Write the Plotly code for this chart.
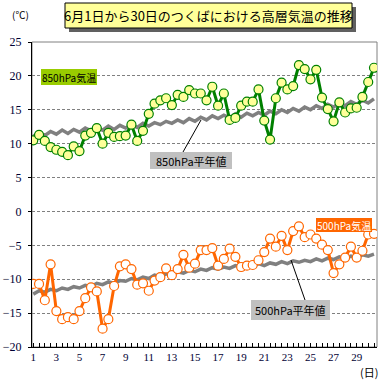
import plotly.graph_objects as go

# ---------------- data ----------------
days = [1 + i * 0.5 for i in range(60)]

t850 = [10.5, 11.3, 10.4, 9.5, 9.1, 8.8, 8.3, 9.6, 8.9, 11.2,
        11.6, 12.3, 10.0, 11.6, 11.0, 11.1, 11.2, 12.8, 10.4, 11.9,
        14.4, 15.9, 16.4, 16.7, 15.7, 17.2, 16.9, 17.9, 17.4, 17.4,
        16.4, 18.4, 15.6, 17.4, 13.5, 13.8, 15.6, 16.2, 16.2, 18.0,
        13.4, 10.6, 16.7, 19.0, 18.0, 18.5, 21.6, 21.0, 19.5, 20.9,
        16.8, 15.1, 13.3, 16.1, 14.6, 15.2, 15.3, 16.9, 19.1, 21.2]

n850 = [11.1, 11.6, 11.2, 11.8, 11.4, 12.0, 11.5, 12.1, 11.7, 12.3,
        11.9, 12.4, 12.0, 12.6, 12.1, 12.7, 12.3, 12.8, 12.4, 13.0,
        12.6, 13.1, 12.8, 13.3, 13.0, 13.5, 13.1, 13.7, 13.3, 13.9,
        13.5, 14.1, 13.7, 14.2, 13.8, 14.4, 13.9, 14.5, 14.1, 14.6,
        14.2, 14.8, 14.4, 15.0, 14.6, 15.2, 14.8, 15.4, 15.0, 15.6,
        15.2, 15.8, 15.4, 16.0, 15.6, 16.2, 15.8, 16.4, 16.0, 16.6]

t500 = [-10.7, -10.7, -13.1, -7.8, -14.7, -15.9, -15.6, -15.9, -14.7, -12.8,
        -11.2, -11.8, -17.3, -15.9, -11.0, -8.1, -7.8, -8.5, -10.8, -10.6,
        -11.7, -10.2, -9.7, -8.4, -9.4, -8.5, -6.4, -8.3, -7.7, -5.7,
        -5.7, -5.4, -8.0, -7.0, -5.5, -6.7, -8.2, -8.0, -7.9, -7.2,
        -6.0, -4.0, -5.2, -3.6, -5.7, -2.9, -2.2, -3.8, -3.4, -4.0,
        -4.9, -5.7, -9.1, -7.8, -6.8, -5.2, -6.8, -5.8, -3.4, -3.3]

n500 = [-12.2, -11.7, -11.9, -11.5, -11.7, -11.3, -11.5, -11.1, -11.3, -10.9,
        -11.1, -10.6, -10.8, -10.4, -10.6, -10.2, -10.3, -9.9, -10.1, -9.7,
        -9.9, -9.4, -9.6, -9.2, -9.4, -8.9, -9.1, -8.7, -8.9, -8.5,
        -8.7, -8.3, -8.5, -8.2, -8.4, -8.0, -8.2, -7.9, -8.1, -7.7,
        -8.0, -7.6, -7.8, -7.4, -7.7, -7.3, -7.5, -7.2, -7.4, -7.0,
        -7.3, -6.9, -7.1, -6.7, -6.9, -6.6, -6.8, -6.4, -6.6, -6.3]

xtick_vals = list(range(1, 30, 2))
ytick_vals = list(range(-20, 26, 5))

title_text = "6月1日から30日のつくばにおける高層気温の推移"
lab850 = "850hPa気温"
lab850n = "850hPa平年値"
lab500 = "500hPa気温"
lab500n = "500hPa平年値"

# ---------------- layout geometry (pixels) ----------------
W = H = 389
L, R, T, B = 32, 377, 42, 347


def px(x):
    return (x - L) / (R - L)


def py(y):
    return (B - y) / (B - T)


JP = "Noto Sans CJK JP"
SERIF = "Liberation Serif"

fig = go.Figure()

fig.add_trace(go.Scatter(x=days, y=n850, mode="lines",
                         line=dict(color="#808080", width=3.5), hoverinfo="skip"))
fig.add_trace(go.Scatter(x=days, y=n500, mode="lines",
                         line=dict(color="#808080", width=3.5), hoverinfo="skip"))
fig.add_trace(go.Scatter(x=days, y=t850, mode="lines+markers",
                         line=dict(color="#008000", width=3),
                         marker=dict(size=9, color="#FFFF99",
                                     line=dict(color="#008000", width=1.2))))
fig.add_trace(go.Scatter(x=days, y=t500, mode="lines+markers",
                         line=dict(color="#FF6600", width=3),
                         marker=dict(size=9, color="#FFFFFF",
                                     line=dict(color="#FF6600", width=1.2))))

shapes = []
# plot frame (top/right gray)
shapes.append(dict(type="rect", xref="paper", yref="paper", x0=0, x1=1, y0=0, y1=1,
                   line=dict(color="#808080", width=1), layer="below"))
# title box shadow + box
shapes.append(dict(type="rect", xref="paper", yref="paper",
                   x0=px(69), x1=px(356), y0=py(32), y1=py(7),
                   fillcolor="#606060", line=dict(width=0)))
shapes.append(dict(type="rect", xref="paper", yref="paper",
                   x0=px(65), x1=px(352), y0=py(28), y1=py(3),
                   fillcolor="#FFFF99", line=dict(color="#000000", width=1)))
# label boxes
shapes.append(dict(type="rect", xref="paper", yref="paper",
                   x0=px(41), x1=px(97), y0=py(85), y1=py(69),
                   fillcolor="#99CC00", line=dict(width=0)))
shapes.append(dict(type="rect", xref="paper", yref="paper",
                   x0=px(316), x1=px(372), y0=py(232), y1=py(218),
                   fillcolor="#FF6600", line=dict(width=0)))
shapes.append(dict(type="rect", xref="paper", yref="paper",
                   x0=px(150), x1=px(232), y0=py(169), y1=py(152),
                   fillcolor="#C0C0C0", line=dict(width=0)))
shapes.append(dict(type="rect", xref="paper", yref="paper",
                   x0=px(251), x1=px(330), y0=py(320), y1=py(300),
                   fillcolor="#C0C0C0", line=dict(width=0)))
# pointer lines
shapes.append(dict(type="line", xref="paper", yref="paper",
                   x0=px(201), y0=py(120), x1=px(183), y1=py(152),
                   line=dict(color="#000000", width=1)))
shapes.append(dict(type="line", xref="paper", yref="paper",
                   x0=px(291), y0=py(260), x1=px(305), y1=py(300),
                   line=dict(color="#000000", width=1)))

annotations = [
    dict(text=title_text, xref="paper", yref="paper", x=px(208.5), y=py(15.5),
         showarrow=False, font=dict(family=JP, size=13, color="#000000"),
         xanchor="center", yanchor="middle"),
    dict(text=lab850, xref="paper", yref="paper", x=px(69), y=py(77),
         showarrow=False, font=dict(family=JP, size=10, color="#000000"),
         xanchor="center", yanchor="middle"),
    dict(text=lab500, xref="paper", yref="paper", x=px(344), y=py(225),
         showarrow=False, font=dict(family=JP, size=10, color="#FFFFFF"),
         xanchor="center", yanchor="middle"),
    dict(text=lab850n, xref="paper", yref="paper", x=px(191), y=py(160.5),
         showarrow=False, font=dict(family=JP, size=11, color="#000000"),
         xanchor="center", yanchor="middle"),
    dict(text=lab500n, xref="paper", yref="paper", x=px(290.5), y=py(310),
         showarrow=False, font=dict(family=JP, size=11, color="#000000"),
         xanchor="center", yanchor="middle"),
    dict(text="(℃)", xref="paper", yref="paper", x=px(20), y=py(15),
         showarrow=False, font=dict(family=JP, size=10, color="#000000"),
         xanchor="center", yanchor="middle"),
    dict(text="(日)", xref="paper", yref="paper", x=px(369), y=py(372),
         showarrow=False, font=dict(family=JP, size=11, color="#000000"),
         xanchor="center", yanchor="middle"),
]

fig.update_layout(
    template="none",
    width=W, height=H,
    margin=dict(l=L, r=W - R, t=T, b=H - B, pad=0, autoexpand=False),
    paper_bgcolor="#FFFFFF", plot_bgcolor="#FFFFFF",
    showlegend=False,
    shapes=shapes,
    annotations=annotations,
    xaxis=dict(range=[0.89, 30.76], autorange=False, automargin=False,
               tickvals=xtick_vals,
               ticktext=[str(v) for v in xtick_vals],
               ticks="inside", ticklen=4, tickcolor="#000000", tickwidth=1,
               minor=dict(ticks="inside", ticklen=4, tick0=1, dtick=0.5,
                          tickcolor="#000000", showgrid=False),
               showline=True, linecolor="#000000", linewidth=1,
               showgrid=False, zeroline=False,
               tickfont=dict(family=SERIF, size=11, color="#000033"),
               ticklabelstandoff=0, fixedrange=True),
    yaxis=dict(range=[-20, 25], autorange=False, automargin=False,
               tickvals=ytick_vals,
               ticks="outside", ticklen=3, tickcolor="#000000",
               showline=True, linecolor="#000000", linewidth=1,
               showgrid=True, gridcolor="#808080", gridwidth=1, griddash="3px,2px",
               zeroline=False,
               tickfont=dict(family=SERIF, size=12, color="#000033"),
               ticklabelstandoff=4, fixedrange=True),
)

fig.write_html(
    "out.html",
    config={"displayModeBar": False},
    post_script="document.body.style.margin='0';document.body.style.padding='0';",
)
